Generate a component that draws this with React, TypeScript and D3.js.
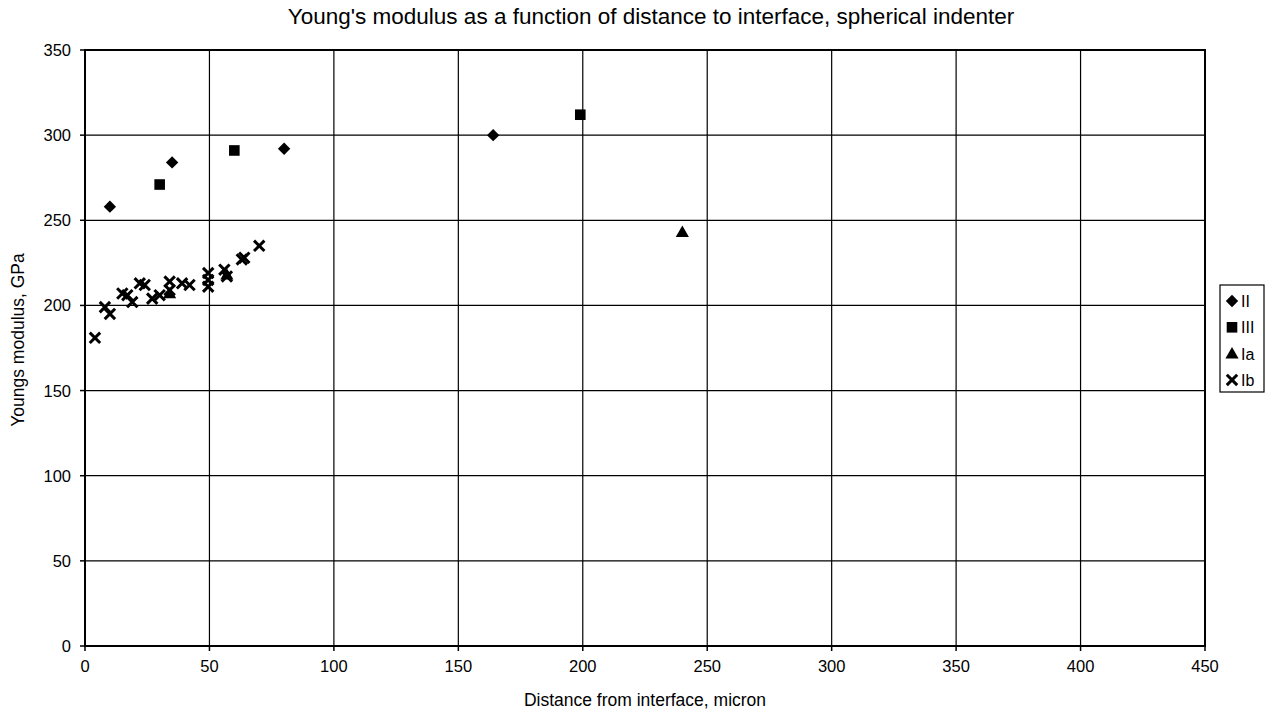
import React from "react";
import * as d3 from "d3";

const seriesNames = ["II", "III", "Ia", "Ib"];
const seriesII: [number, number][] = [[10, 258], [35, 284], [80, 292], [164, 300]];
const seriesIII: [number, number][] = [[30, 271], [60, 291], [199, 312]];
const seriesIa: [number, number][] = [[34, 207], [57, 218], [240, 243]];
const seriesIb: [number, number][] = [
  [4, 181], [8, 199], [10, 195], [15, 207], [17, 206], [19, 202], [22, 213], [24, 212],
  [27, 204], [30, 206], [34, 214], [34, 209], [39, 213], [42, 212], [49.5, 219], [49.5, 215],
  [49.5, 211], [56, 221], [57, 217], [63, 227], [64, 228], [70, 235],
];
const xTicks = [0, 50, 100, 150, 200, 250, 300, 350, 400, 450];
const yTicks = [0, 50, 100, 150, 200, 250, 300, 350];

const W = 1271, H = 713;
const FONT = "'Liberation Sans', Arial, sans-serif";

function Marker({ kind, x, y }: { kind: string; x: number; y: number }) {
  if (kind === "II") {
    const r = 6.2;
    return <path d={`M${x},${y - r}L${x + r},${y}L${x},${y + r}L${x - r},${y}Z`} fill="#000" />;
  }
  if (kind === "III") {
    return <rect x={x - 5.3} y={y - 5.3} width={10.6} height={10.6} fill="#000" />;
  }
  if (kind === "Ia") {
    const p = d3.symbol(d3.symbolTriangle, 75)();
    return <path d={p as string} transform={`translate(${x},${y + 1})`} fill="#000" />;
  }
  const s = 5.2;
  return (
    <path d={`M${x - s},${y - s}L${x + s},${y + s}M${x - s},${y + s}L${x + s},${y - s}`} stroke="#000" strokeWidth={3} />
  );
}

export default function App() {
  const x = d3.scaleLinear().domain([0, 450]).range([85, 1205]);
  const y = d3.scaleLinear().domain([0, 350]).range([646, 50]);
  const data: [string, [number, number][]][] = [
    ["II", seriesII], ["III", seriesIII], ["Ia", seriesIa], ["Ib", seriesIb],
  ];
  return (
    <svg width={W} height={H} style={{ position: "absolute", left: 0, top: 0, background: "#fff" }} fontFamily={FONT}>
      <rect width={W} height={H} fill="#fff" />
      <text x={651} y={24} textAnchor="middle" fontSize={22.5} fill="#000">
        Young's modulus as a function of distance to interface, spherical indenter
      </text>
      {xTicks.map((t) => (
        <line key={"gx" + t} x1={x(t)} x2={x(t)} y1={y(0)} y2={y(350)} stroke="#000" strokeWidth={1.2} />
      ))}
      {yTicks.map((t) => (
        <line key={"gy" + t} x1={x(0)} x2={x(450)} y1={y(t)} y2={y(t)} stroke="#000" strokeWidth={1.2} />
      ))}
      <rect x={x(0)} y={y(350)} width={x(450) - x(0)} height={y(0) - y(350)} fill="none" stroke="#000" strokeWidth={2} />
      {xTicks.map((t) => (
        <g key={"tx" + t}>
          <line x1={x(t)} x2={x(t)} y1={y(0)} y2={y(0) + 5} stroke="#000" strokeWidth={1.5} />
          <text x={x(t)} y={y(0) + 26} textAnchor="middle" fontSize={16.5}>{t}</text>
        </g>
      ))}
      {yTicks.map((t) => (
        <g key={"ty" + t}>
          <line x1={x(0) - 5} x2={x(0)} y1={y(t)} y2={y(t)} stroke="#000" strokeWidth={1.5} />
          <text x={x(0) - 14} y={y(t) + 6} textAnchor="end" fontSize={16.5}>{t}</text>
        </g>
      ))}
      <text x={645} y={706} textAnchor="middle" fontSize={17.5}>Distance from interface, micron</text>
      <text transform={`translate(24,${340}) rotate(-90)`} textAnchor="middle" fontSize={17.5}>Youngs modulus, GPa</text>
      {data.map(([name, pts]) =>
        pts.map((p, i) => <Marker key={name + i} kind={name} x={x(p[0])} y={y(p[1])} />)
      )}
      <rect x={1220} y={285} width={44} height={107} fill="#fff" stroke="#000" strokeWidth={1.2} />
      {seriesNames.map((n, i) => (
        <g key={"lg" + n}>
          <Marker kind={n} x={1232} y={301 + i * 26.3} />
          <text x={1241} y={301 + i * 26.3 + 6} fontSize={16}>{n}</text>
        </g>
      ))}
    </svg>
  );
}
